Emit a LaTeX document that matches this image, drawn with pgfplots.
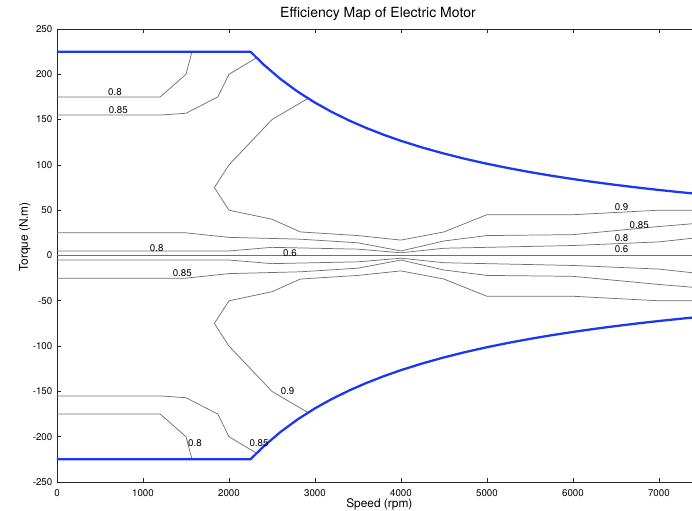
\documentclass[border=0pt]{standalone}
\usepackage{pgfplots}
\pgfplotsset{compat=1.18}
\usepackage{fontspec}
\setmainfont{TeX Gyre Heros}
\usetikzlibrary{calc}

\definecolor{envblue}{RGB}{25,55,245}
\definecolor{contgray}{RGB}{112,112,112}

\newcommand{\ticksize}{\fontsize{7.3}{8.5}\selectfont}

\begin{document}
\begin{tikzpicture}
\begin{axis}[
  scale only axis,
  width=476.25pt, height=339.75pt,
  xmin=0, xmax=7385, ymin=-250, ymax=250,
  axis x line=box, axis y line=left,
  y axis line style={-},
  axis line style={black!85, line width=0.5pt},
  tick align=inside,
  major tick length=3pt,
  tick style={black!85, line width=0.5pt},
  xtick={0,1000,...,7000},
  ytick={-250,-200,...,250},
  scaled ticks=false,
  /pgf/number format/1000 sep={},
  /pgf/number format/assume math mode=true,
  tick label style={font=\ticksize},
  xticklabel style={yshift=-2.2pt},
  title={Efficiency Map of Electric Motor},
  every axis title/.style={at={(axis description cs:0.5055,1.0243)}, anchor=base, font=\fontsize{10.5}{12}\selectfont},
  xlabel={Speed (rpm)},
  xlabel style={at={(axis description cs:0.5076,-0.056)}, anchor=base, font=\fontsize{8.9}{11}\selectfont},
  ylabel={Torque (N.m)},
  ylabel style={at={(axis description cs:-0.0457,0.541)}, anchor=base, font=\fontsize{8.9}{11}\selectfont},
  contour/.style={contgray, line width=0.55pt, solid, mark=none},
  envelope/.style={envblue, line width=1.7pt, solid, mark=none},
  clip=true,
]

% ---- efficiency contours, motoring (positive torque) ----
% 0.8 upper-left lobe
\addplot[contour] coordinates {(0,175) (1200,175) (1500,200) (1570,225)};
% 0.85 upper-left lobe
\addplot[contour] coordinates {(0,155) (1200,155) (1500,157) (1870,175) (2000,200) (2320,218.2)};
% 0.9 island
\addplot[contour] coordinates {(2920,173.4) (2500,150) (2000,100) (1830,75) (2000,50) (2500,40)
  (2830,26) (3500,22) (4000,17) (4500,26) (5000,45) (6000,45) (7000,50) (7385,50)};
% 0.85 low-torque band
\addplot[contour] coordinates {(0,25) (1500,25) (2000,20) (2830,18) (3500,14) (4000,5)
  (4500,16) (5000,22) (6000,23) (7000,32) (7385,35)};
% 0.8 low-torque band
\addplot[contour] coordinates {(0,5) (2000,5) (2500,9) (3500,7) (4000,3) (4500,8)
  (6000,11) (7000,15) (7385,19)};
% 0.6 along zero torque
\addplot[contour] coordinates {(0,0) (7385,0)};

% ---- efficiency contours, generating (negative torque) ----
\addplot[contour] coordinates {(0,-175) (1200,-175) (1500,-200) (1570,-225)};
\addplot[contour] coordinates {(0,-155) (1200,-155) (1500,-157) (1870,-175) (2000,-200) (2320,-218.2)};
\addplot[contour] coordinates {(2920,-173.4) (2500,-150) (2000,-100) (1830,-75) (2000,-50) (2500,-40)
  (2830,-26) (3500,-22) (4000,-17) (4500,-26) (5000,-45) (6000,-45) (7000,-50) (7385,-50)};
\addplot[contour] coordinates {(0,-25) (1500,-25) (2000,-20) (2830,-18) (3500,-14) (4000,-5)
  (4500,-16) (5000,-22) (6000,-23) (7000,-32) (7385,-35)};
\addplot[contour] coordinates {(0,-5) (2000,-5) (2500,-9) (3500,-7) (4000,-3) (4500,-8)
  (6000,-11) (7000,-15) (7385,-19)};

% ---- torque envelope ----
\addplot[envelope] coordinates {
  (0,225) (2250,225) (2400,210.94) (2600,194.71) (2800,180.80) (3000,168.75)
  (3200,158.20) (3400,148.90) (3600,140.63) (3800,133.22) (4000,126.56)
  (4250,119.12) (4500,112.50) (4750,106.58) (5000,101.25) (5250,96.43)
  (5500,92.05) (5750,88.04) (6000,84.38) (6250,81.00) (6500,77.88)
  (6750,75.00) (7000,72.32) (7250,69.83) (7385,68.55)};
\addplot[envelope] coordinates {
  (0,-225) (2250,-225) (2400,-210.94) (2600,-194.71) (2800,-180.80) (3000,-168.75)
  (3200,-158.20) (3400,-148.90) (3600,-140.63) (3800,-133.22) (4000,-126.56)
  (4250,-119.12) (4500,-112.50) (4750,-106.58) (5000,-101.25) (5250,-96.43)
  (5500,-92.05) (5750,-88.04) (6000,-84.38) (6250,-81.00) (6500,-77.88)
  (6750,-75.00) (7000,-72.32) (7250,-69.83) (7385,-68.55)};

% ---- contour labels ----
\begin{scope}[every node/.style={font=\ticksize, inner sep=0pt, anchor=center}]
\node at (axis cs:674,180.6) {0.8};
\node at (axis cs:713,160.4) {0.85};
\node at (axis cs:1159,8.6) {0.8};
\node at (axis cs:1457,-19.9) {0.85};
\node at (axis cs:2709,2.9) {0.6};
\node at (axis cs:6566,53.4) {0.9};
\node at (axis cs:6771,33.4) {0.85};
\node at (axis cs:6566,18.8) {0.8};
\node at (axis cs:6566,6.6) {0.6};
\node at (axis cs:2682,-149.4) {0.9};
\node at (axis cs:1605,-207.3) {0.8};
\node at (axis cs:2349,-207.3) {0.85};
\end{scope}
\end{axis}
\pgfresetboundingbox
\path ($(current axis.south west)+(-42.75pt,-21.75pt)$) rectangle ($(current axis.north east)+(0pt,21.75pt)$);
\end{tikzpicture}
\end{document}
